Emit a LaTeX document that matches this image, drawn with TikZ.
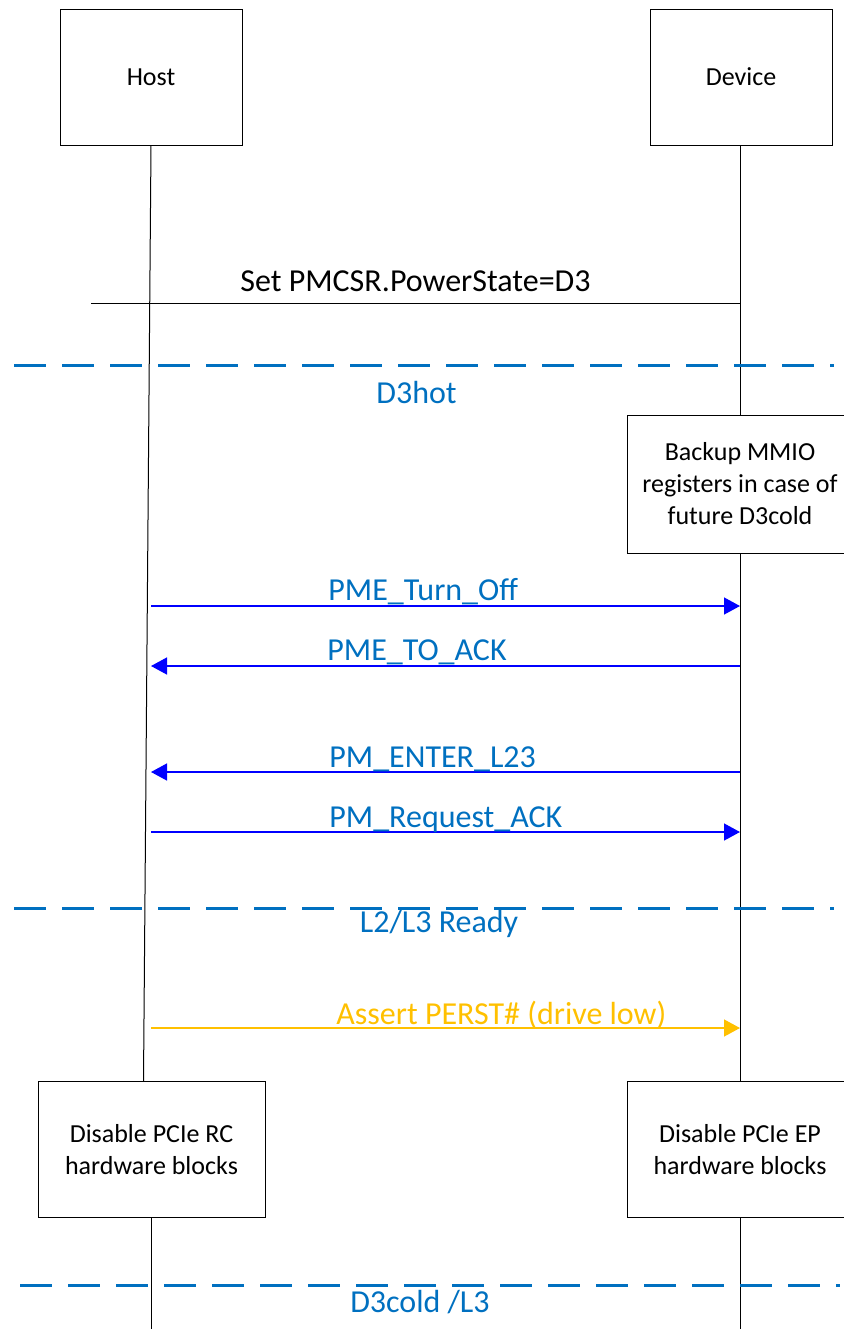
\documentclass[tikz,border=0pt]{standalone}
\usepackage{fontspec}
\setmainfont{Carlito}
\usepackage{xcolor}
\usetikzlibrary{arrows.meta}
\usetikzlibrary{positioning}
\definecolor{stateblue}{HTML}{0070C0}
\definecolor{msgblue}{HTML}{0000FF}
\definecolor{perstyellow}{HTML}{FFC000}

\begin{document}
\begin{tikzpicture}[x=0.5pt,y=-0.5pt,
	box/.style={draw, line width=0.5pt, inner sep=0pt, minimum height=68pt, align=center, font=\fontsize{13}{16}\selectfont},
	life/.style={line width=0.5pt},
	msg/.style={msgblue, line width=0.7pt, -{Triangle[length=8pt,width=8.5pt]}},
	msglabel/.style={anchor=base west, stateblue, inner sep=0pt, font=\fontsize{16}{19}\selectfont},
	phase/.style={stateblue, line width=1.5pt, dash pattern=on 16pt off 8pt},
	phaselabel/.style={anchor=base, stateblue, inner sep=0pt, font=\fontsize{16}{19}\selectfont}]
			\useasboundingbox (0,0) rectangle (844,1329);
			% draw actors
			\node[box, minimum width=91pt] (host) at (151,77) {Host};
			\node[box, minimum width=91pt] (device) at (741,77) {Device};
			\node[box, minimum width=113pt, minimum height=69pt] (backup) at (740,484) {Backup MMIO\\registers in case of\\future D3cold};
			\node[box, minimum width=113.5pt] (rc) at (151.5,1149.5) {Disable PCIe RC\\hardware blocks};
			\node[box, minimum width=113pt] (ep) at (740,1149.5) {Disable PCIe EP\\hardware blocks};
			
			% draw lifelines
			\draw[life] (host.south) -- ([xshift=-4pt]rc.north);
			\draw[life] (rc.south) -- (rc.south |- 0,1329);
			\draw[life] (device.south -| backup.north) -- (backup.north);
			\draw[life] (backup.south) -- (ep.north);
			\draw[life] (ep.south) -- (ep.south |- 0,1329);
			
			% set power state
			\coordinate (setstart) at (91,303);
			\draw[life] (setstart) -- (backup.north |- setstart);
			\node[anchor=base west, inner sep=0pt, font=\fontsize{16}{19}\selectfont] (setlabel) at (240,291) {Set PMCSR.PowerState=D3};
			
			% add messages
			\draw[msg] (host.south |- 0,606) -- (backup.south |- 0,606);
			\node[msglabel] (turnoff) at (328,600) {PME\_Turn\_Off};
			\draw[msg] (backup.south |- 0,666) -- (host.south |- 0,666);
			\node[msglabel] (toack) at (327,660) {PME\_TO\_ACK};
			\draw[msg] (backup.south |- 0,772) -- (host.south |- 0,772);
			\node[msglabel] (enter) at (329,767) {PM\_ENTER\_L23};
			\draw[msg] (host.south |- 0,832) -- (backup.south |- 0,832);
			\node[msglabel] (reqack) at (329,827) {PM\_Request\_ACK};
			\draw[msg, perstyellow] (host.south |- 0,1028) -- (backup.south |- 0,1028);
			\node[msglabel, perstyellow] (perst) at (336,1024) {Assert PERST\# (drive low)};
			
			% draw power states
			\draw[phase] (14,365) -- (834,365);
			\node[phaselabel] (d3hot) at (416.5,403) {D3hot};
			\draw[phase] (14,908) -- (834,908);
			\node[phaselabel] (l23) at (439,932) {L2/L3 Ready};
			\draw[phase] (20,1285) -- (840,1285);
			\node[phaselabel] (d3cold) at (420,1312) {D3cold /L3};
		\end{tikzpicture}
\end{document}
